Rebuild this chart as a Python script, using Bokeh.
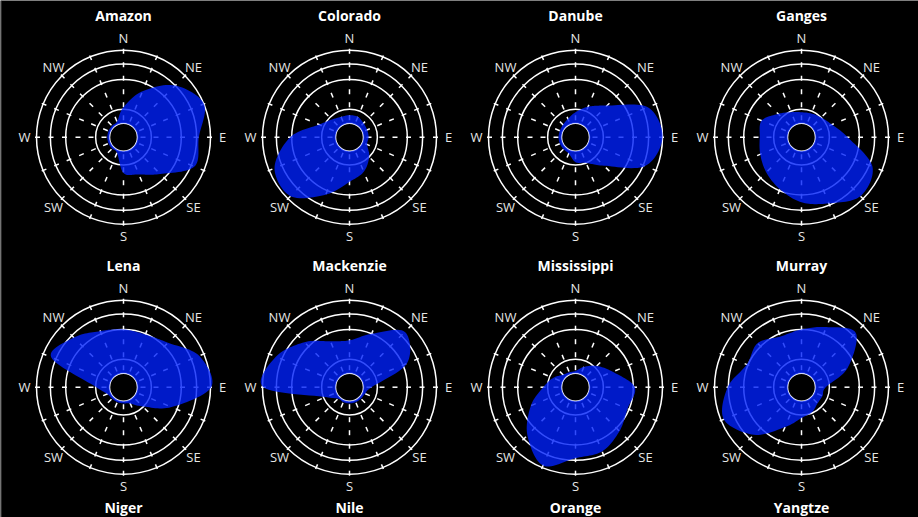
import numpy as np
from bokeh.plotting import figure
from bokeh.models import Range1d
from bokeh.core.properties import value
from bokeh.embed import file_html
from bokeh.resources import INLINE

# ---------------- data ----------------
rivers = ["Amazon", "Colorado", "Danube", "Ganges",
          "Lena", "Mackenzie", "Mississippi", "Murray",
          "Niger", "Nile", "Orange", "Yangtze"]
directions = ["N", "NNE", "NE", "ENE", "E", "ESE", "SE", "SSE",
              "S", "SSW", "SW", "WSW", "W", "WNW", "NW", "NNW"]
compass_labels = ["N", "NE", "E", "SE", "S", "SW", "W", "NW"]

# radial reach per direction (0 = inner hole, 100 = outer ring)
amazon      = [22, 49, 81, 100, 84, 86, 52, 36, 30, 4, 3, 3, 3, 3, 3, 4]
colorado    = [11, 11, 8, 7, 7, 7, 19, 32, 42, 66, 95, 92, 62, 26, 15, 11]
danube      = [15, 26, 42, 88, 100, 84, 36, 19, 15, 5, 4, 4, 4, 4, 5, 8]
ganges      = [15, 16, 19, 26, 44, 86, 95, 79, 70, 58, 49, 42, 38, 40, 26, 18]
lena        = [60, 59, 67, 93, 101, 52, 18, 5, 3, 3, 3, 5, 18, 88, 77, 64]
mackenzie   = [45, 60, 88, 66, 11, 4, 3, 3, 3, 3, 3, 16, 99, 90, 68, 49]
mississippi = [3, 11, 22, 36, 62, 58, 66, 76, 78, 97, 74, 47, 25, 14, 5, 3]
murray      = [60, 70, 86, 49, 14, 12, 12, 18, 23, 40, 73, 96, 82, 62, 66, 56]
series = {"Amazon": amazon, "Colorado": colorado, "Danube": danube,
          "Ganges": ganges, "Lena": lena, "Mackenzie": mackenzie,
          "Mississippi": mississippi, "Murray": murray}
ring_ticks = [19, 60, 81, 100]

# ---------------- layout / style ----------------
W, H = 918, 517
COL_X0, COL_DX = 123.0, 226.0
ROW_Y0, ROW_DY = 136.7, 250.0
R_HOLE, R_OUT = 14.0, 87.0
LABEL_R = 99.0
TITLE_DY = -121.5
DASH_CENTERS = [19.5, 32.5, 45.5, 59.0, 72.5, 86.0]
DASH_LEN = 5.0
BLUE = "#0020fa"
FONT = value("Open Sans")


def rscale(v):
    return R_HOLE + np.asarray(v, dtype=float) / 100.0 * (R_OUT - R_HOLE)


def catmull_closed(px, py, n=14):
    P = np.column_stack([px, py])
    m = len(P)
    out = []
    for i in range(m):
        p0, p1, p2, p3 = P[(i - 1) % m], P[i], P[(i + 1) % m], P[(i + 2) % m]
        for t in np.linspace(0, 1, n, endpoint=False):
            q = 0.5 * ((2 * p1) + (-p0 + p2) * t + (2 * p0 - 5 * p1 + 4 * p2 - p3) * t ** 2
                       + (-p0 + 3 * p1 - 3 * p2 + p3) * t ** 3)
            out.append(q)
    out = np.array(out)
    return out[:, 0], out[:, 1]


p = figure(width=W, height=H, x_range=Range1d(0, W), y_range=Range1d(H, 0),
           output_backend="svg", toolbar_location=None, min_border=0,
           background_fill_color="black", border_fill_color="black")
p.axis.visible = False
p.grid.visible = False
p.outline_line_color = None

ang16 = np.deg2rad(np.arange(16) * 22.5)
ang8 = np.deg2rad(np.arange(8) * 45.0)

for idx, name in enumerate(rivers):
    cx = COL_X0 + COL_DX * (idx % 4)
    cy = ROW_Y0 + ROW_DY * (idx // 4)

    # title (bottom row kept inside the page)
    ty = cy + TITLE_DY
    if ty + 8 > H:
        p.text(x=[cx], y=[H - 1], text=[name], text_font=FONT,
               text_font_style="bold", text_font_size="14px", text_color="white",
               text_align="center", text_baseline="bottom")
    else:
        p.text(x=[cx], y=[ty], text=[name], text_font=FONT,
               text_font_style="bold", text_font_size="14px", text_color="white",
               text_align="center", text_baseline="middle")

    if name not in series:
        continue

    # rings
    radii = [R_HOLE] + list(rscale(ring_ticks))
    p.circle(x=[cx] * len(radii), y=[cy] * len(radii), radius=radii,
             fill_color=None, line_color="white", line_width=1.5)

    # dashed spokes
    x0s, y0s, x1s, y1s = [], [], [], []
    for a in ang16:
        for dc in DASH_CENTERS:
            ra, rb = dc - DASH_LEN / 2, dc + DASH_LEN / 2
            x0s.append(cx + ra * np.sin(a)); y0s.append(cy - ra * np.cos(a))
            x1s.append(cx + rb * np.sin(a)); y1s.append(cy - rb * np.cos(a))
    p.segment(x0=x0s, y0=y0s, x1=x1s, y1=y1s, line_color="white", line_width=1.5)

    # compass labels
    p.text(x=list(cx + LABEL_R * np.sin(ang8)), y=list(cy - LABEL_R * np.cos(ang8)),
           text=compass_labels, text_font=FONT, text_font_size="13px",
           text_color="#e6e6e6", text_align="center", text_baseline="middle")

    # blob
    r = rscale(series[name])
    bx, by = catmull_closed(cx + r * np.sin(ang16), cy - r * np.cos(ang16))
    dx, dy = bx - cx, by - cy
    dist = np.hypot(dx, dy)
    k = np.maximum(dist, R_HOLE + 1.5) / dist
    bx, by = cx + dx * k, cy + dy * k
    th = np.linspace(0, 2 * np.pi, 80, endpoint=False)
    hx = list(cx + R_HOLE * np.cos(th))
    hy = list(cy + R_HOLE * np.sin(th))
    p.multi_polygons(xs=[[[list(bx), hx]]], ys=[[[list(by), hy]]],
                     fill_color=BLUE, fill_alpha=0.8, line_color=None)

# thin left page edge
p.segment(x0=[0.5], y0=[0], x1=[0.5], y1=[H], line_color="#555555", line_width=1)

open("out.html", "w").write(file_html(p, INLINE))
